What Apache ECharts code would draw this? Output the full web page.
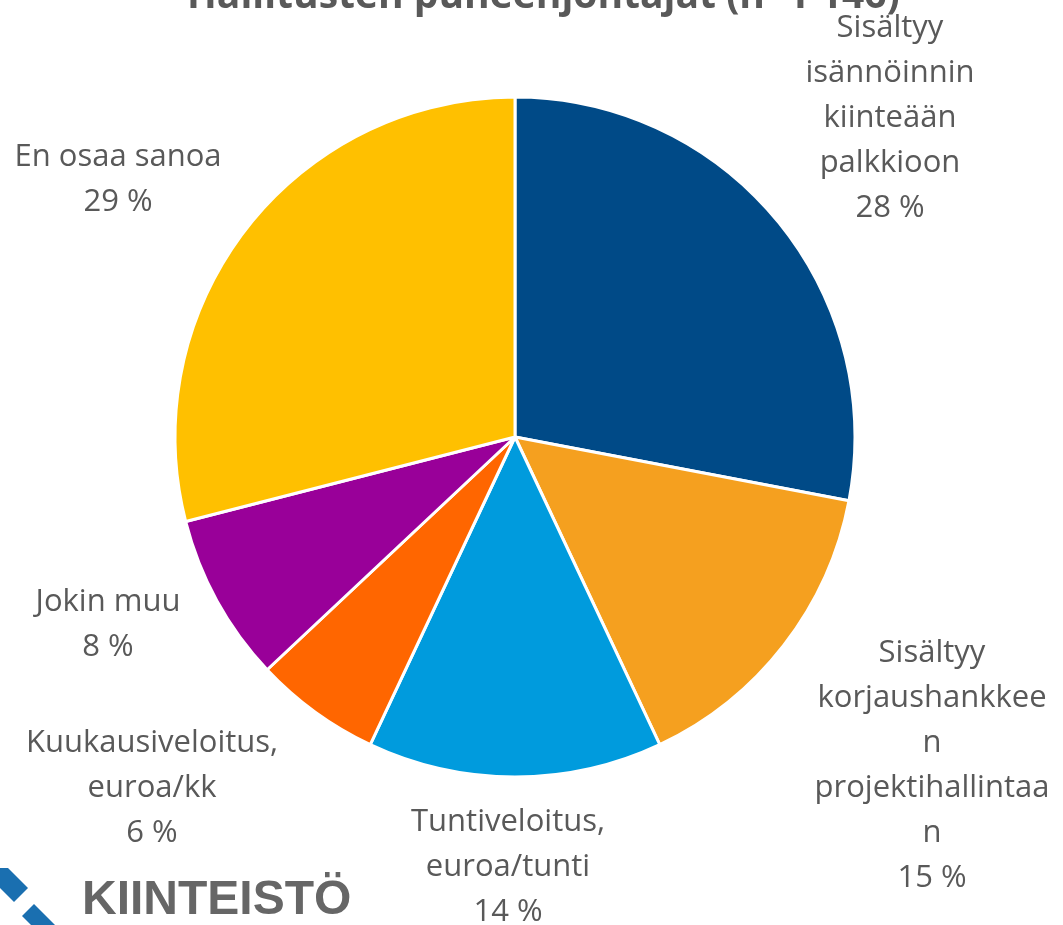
<!DOCTYPE html>
<html>
<head>
<meta charset="utf-8">
<script src="https://cdn.jsdelivr.net/npm/echarts@6/dist/echarts.min.js"></script>
<style>
  html, body { margin: 0; padding: 0; background: #ffffff; }
  #chart { width: 1063px; height: 925px; }
</style>
</head>
<body>
<div id="chart"></div>
<script>
// categories (wrapped like in the original)
var categories = [
  'Sisältyy\nisännöinnin\nkiinteään\npalkkioon',
  'Sisältyy\nkorjaushankkee\nn\nprojektihallintaa\nn',
  'Tuntiveloitus,\neuroa/tunti',
  'Kuukausiveloitus,\neuroa/kk',
  'Jokin muu',
  'En osaa sanoa'
]
var values = [28, 15, 14, 6, 8, 29]
var colors = ['#004A87', '#F5A01F', '#009BDD', '#FF6600', '#990099', '#FFC000']
// label block centres, like excel put them
var labelPos = [[890, 118], [932, 766], [508, 867], [152, 788], [108, 625], [118, 180]]

var chart = echarts.init(document.getElementById('chart'))

var option = {
  backgroundColor: '#ffffff',
  title: {
    text: 'Hallitusten puheenjohtajat (n=1 146)',
    left: 182,
    top: -28,
    textStyle: {
      color: '#595959',
      fontSize: 39,
      fontWeight: 'bold',
      fontFamily: 'Open Sans'
    }
  },
  series: [{
    type: 'pie',
    center: [515, 437],
    radius: 340,
    startAngle: 90,
    clockwise: true,
    animation: false,
    itemStyle: {
      borderColor: '#ffffff',
      borderWidth: 3
    },
    label: {
      show: true,
      position: 'outside',
      formatter: '{b}\n{c} %',
      color: '#595959',
      fontSize: 31,
      lineHeight: 45,
      fontFamily: 'Open Sans',
      align: 'center',
      overflow: 'none'
    },
    labelLine: { show: false },
    labelLayout: function (params) {
      var p = labelPos[params.dataIndex]
      return { x: p[0], y: p[1], align: 'center', verticalAlign: 'middle' }
    },
    data: categories.map(function (c, i) {
      return { name: c, value: values[i], itemStyle: { color: colors[i] } }
    })
  }],
  graphic: [
    {
      type: 'polygon',
      shape: { points: [[0, 868], [8, 868], [28, 888], [14, 902], [0, 888]] },
      style: { fill: '#1A6FB0' }
    },
    {
      type: 'polygon',
      shape: { points: [[22, 916], [34, 904], [55, 925], [31, 925]] },
      style: { fill: '#1A6FB0' }
    },
    {
      type: 'text',
      left: 82,
      top: 877,
      style: {
        text: 'KIINTEISTÖ',
        fill: '#666666',
        font: 'bold 48px "Liberation Sans"'
      }
    }
  ]
}

chart.setOption(option)
</script>
</body>
</html>
